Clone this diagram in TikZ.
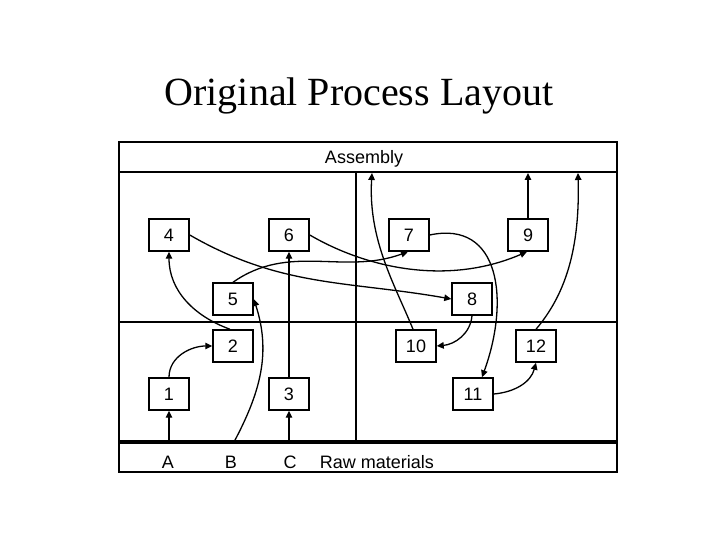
\documentclass[tikz,border=0pt]{standalone}
\usepackage{fontspec}
\setmainfont{Liberation Serif}
\setsansfont{Liberation Sans}
\usetikzlibrary{arrows.meta}
\begin{document}
\begin{tikzpicture}[x=1pt,y=1pt,
  dept/.style={draw, line width=1.5pt, minimum width=40pt, minimum height=32pt,
    inner sep=0pt, font=\sffamily\fontsize{18}{20}\selectfont},
  lbl/.style={inner sep=0pt, font=\sffamily\fontsize{18}{20}\selectfont},
  flow/.style={line width=1.3pt, -{Triangle[length=7pt,width=6.5pt]}}]
\useasboundingbox (0,0) rectangle (720,540);

\node[inner sep=0pt, font=\fontsize{40}{44}\selectfont] (title) at (359,444) {Original Process Layout};

% frame
\draw[line width=2pt] (119,68) rectangle (617,398);
\draw[line width=2pt] (119,368) -- (617,368);
\draw[line width=1.3pt] (119,218) -- (617,218);
\draw[line width=1.3pt] (356,368) -- (356,98);
\draw[line width=4pt] (119,98) -- (617,98);

\node[lbl] (asm) at (364,381) {Assembly};
\node[lbl] (ra) at (168,78) {A};
\node[lbl] (rb) at (231,78) {B};
\node[lbl] (rc) at (290,78) {C};
\node[lbl] (raw) at (377,78) {Raw materials};

% departments
\node[dept] (d4) at (169,305) {4};
\node[dept] (d6) at (289,305) {6};
\node[dept] (d7) at (409,305) {7};
\node[dept] (d9) at (528,305) {9};
\node[dept] (d5) at (233,241) {5};
\node[dept] (d8) at (472,241) {8};
\node[dept] (d2) at (233,194) {2};
\node[dept] (d10) at (416,194) {10};
\node[dept] (d12) at (536,194) {12};
\node[dept] (d1) at (169,146) {1};
\node[dept] (d3) at (289,146) {3};
\node[dept] (d11) at (473,146) {11};

\coordinate (ina) at (169,98);
\coordinate (inb) at (234,98);
\coordinate (inc) at (289,98);
\coordinate (out10) at (372,367);
\coordinate (out9) at (528,367);
\coordinate (out12) at (578,367);

% flows
\draw[flow] (ina) -- (d1.south);
\draw[flow] (inc) -- (d3.south);
\draw[flow] (d3.north) -- (d6.south);
\draw[flow] (inb) to[out=62,in=-72] (d5.east);
\draw[flow] (d1.north) to[out=90,in=180] (d2.west);
\draw[flow] ([xshift=-3pt]d2.north) to[out=160,in=-90] (d4.south);
\draw[flow] (d4.east) to[out=-30,in=170] (d8.west);
\draw[flow] (d5.north) to[out=35,in=-160] ([xshift=-1pt]d7.south);
\draw[flow] (d6.east) .. controls (370,270) and (450,255) .. ([xshift=-1pt]d9.south);
\draw[flow] (d7.east) .. controls (500,320) and (510,240) .. ([xshift=9pt]d11.north);
\draw[flow] (d8.south) to[out=-95,in=5] (d10.east);
\draw[flow] ([xshift=-3pt]d10.north) .. controls (395,255) and (368,300) .. (out10);
\draw[flow] (d9.north) -- (out9);
\draw[flow] (d12.north) .. controls (565,245) and (580,290) .. (out12);
\draw[flow] (d11.east) to[out=5,in=-105] (d12.south);
\end{tikzpicture}
\end{document}
